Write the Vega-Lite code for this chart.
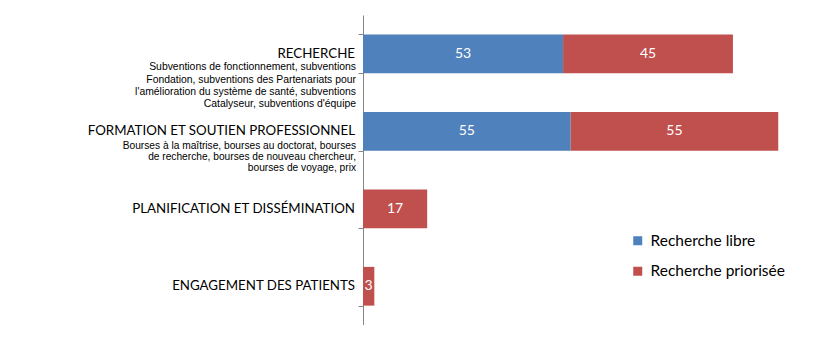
{
  "$schema": "https://vega.github.io/schema/vega-lite/v6.json",
  "width": 453,
  "height": 310,
  "autosize": {"type": "none"},
  "padding": {"left": 363, "top": 15, "right": 0, "bottom": 0},
  "background": "white",
  "config": {"view": {"stroke": null}, "font": "Lato"},
  "datasets": {
    "bars": [
      {"cat": "RECHERCHE", "serie": "Recherche libre", "value": 53},
      {"cat": "RECHERCHE", "serie": "Recherche priorisée", "value": 45},
      {"cat": "FORMATION ET SOUTIEN PROFESSIONNEL", "serie": "Recherche libre", "value": 55},
      {"cat": "FORMATION ET SOUTIEN PROFESSIONNEL", "serie": "Recherche priorisée", "value": 55},
      {"cat": "PLANIFICATION ET DISSÉMINATION", "serie": "Recherche priorisée", "value": 17},
      {"cat": "ENGAGEMENT DES PATIENTS", "serie": "Recherche priorisée", "value": 3}
    ],
    "labels": [
      {"cat": "RECHERCHE", "title": "RECHERCHE", "sub": ["Subventions de fonctionnement, subventions", "Fondation, subventions des Partenariats pour", "l'amélioration du système de santé, subventions", "Catalyseur,  subventions d'équipe"]},
      {"cat": "FORMATION ET SOUTIEN PROFESSIONNEL", "title": "FORMATION ET SOUTIEN PROFESSIONNEL", "sub": ["Bourses  à la maîtrise, bourses  au doctorat, bourses", "de recherche,  bourses de nouveau chercheur,", "bourses  de voyage, prix"]},
      {"cat": "PLANIFICATION ET DISSÉMINATION", "title": "PLANIFICATION ET DISSÉMINATION", "sub": []},
      {"cat": "ENGAGEMENT DES PATIENTS", "title": "ENGAGEMENT DES PATIENTS", "sub": []}
    ]
  },
  "encoding": {
    "y": {
      "field": "cat",
      "type": "nominal",
      "sort": null,
      "scale": {
        "domain": ["RECHERCHE", "FORMATION ET SOUTIEN PROFESSIONNEL", "PLANIFICATION ET DISSÉMINATION", "ENGAGEMENT DES PATIENTS"],
        "paddingInner": 0.5,
        "paddingOuter": 0.25
      },
      "axis": {
        "labels": false,
        "title": null,
        "domainColor": "#868686",
        "tickColor": "#868686",
        "tickBand": "extent",
        "tickSize": 5
      }
    }
  },
  "layer": [
    {
      "data": {"name": "bars"},
      "mark": {"type": "bar"},
      "encoding": {
        "x": {"field": "value", "type": "quantitative", "stack": "zero", "scale": {"domain": [0, 120], "nice": false}, "axis": null},
        "color": {
          "field": "serie",
          "type": "nominal",
          "scale": {"domain": ["Recherche libre", "Recherche priorisée"], "range": ["#4F81BD", "#C0504D"]},
          "legend": {
            "title": null,
            "orient": "none",
            "legendX": 267,
            "legendY": 218,
            "symbolType": "square",
            "symbolSize": 81,
            "symbolStrokeWidth": 0,
            "labelFontSize": 15.5,
            "labelFont": "Lato",
            "labelColor": "#000000",
            "rowPadding": 13.5,
            "labelOffset": 5
          }
        },
        "order": {"field": "serie"}
      }
    },
    {
      "data": {"name": "bars"},
      "mark": {"type": "text", "color": "white", "fontSize": 14, "baseline": "middle", "align": "center"},
      "encoding": {
        "x": {"field": "value", "type": "quantitative", "stack": "zero", "bandPosition": 0.5},
        "detail": {"field": "serie"},
        "order": {"field": "serie"},
        "text": {"field": "value", "type": "quantitative"}
      }
    },
    {
      "data": {"name": "labels"},
      "mark": {"type": "text", "align": "right", "baseline": "middle", "dx": -8, "fontSize": 13.3, "color": "#000000"},
      "encoding": {
        "x": {"datum": 0, "type": "quantitative"},
        "text": {"field": "title", "type": "nominal"}
      }
    },
    {
      "data": {"name": "labels"},
      "transform": [{"filter": "datum.cat === 'RECHERCHE'"}],
      "mark": {"type": "text", "align": "right", "baseline": "top", "dx": -7, "dy": 8.5, "fontSize": 10.4, "lineHeight": 12.3, "font": "Liberation Sans", "color": "#000000"},
      "encoding": {
        "x": {"datum": 0, "type": "quantitative"},
        "text": {"field": "sub"}
      }
    },
    {
      "data": {"name": "labels"},
      "transform": [{"filter": "datum.cat === 'FORMATION ET SOUTIEN PROFESSIONNEL'"}],
      "mark": {"type": "text", "align": "right", "baseline": "top", "dx": -7, "dy": 10, "fontSize": 10.2, "lineHeight": 10.7, "font": "Liberation Sans", "color": "#000000"},
      "encoding": {
        "x": {"datum": 0, "type": "quantitative"},
        "text": {"field": "sub"}
      }
    }
  ]
}
